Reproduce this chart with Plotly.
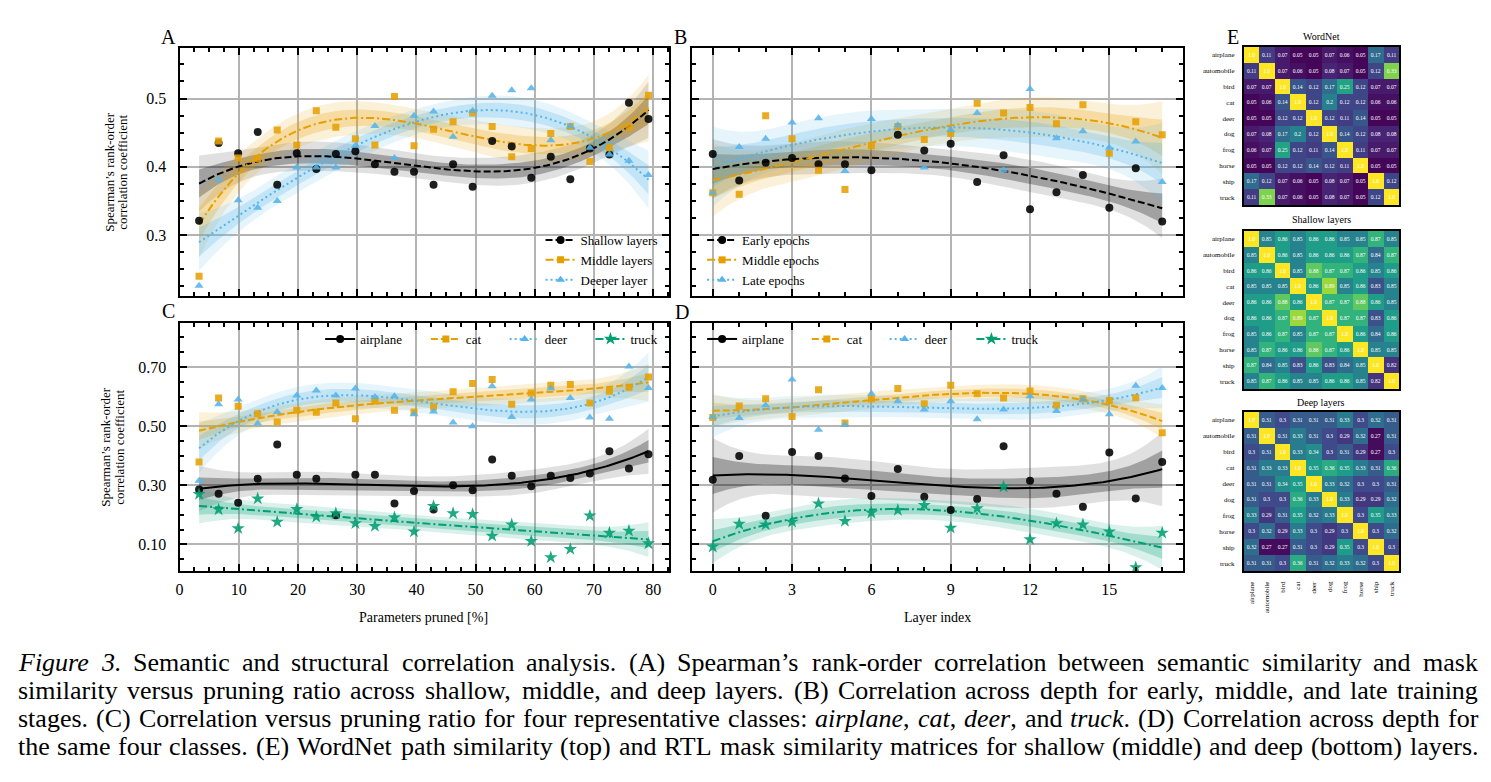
import numpy as np
import plotly.graph_objects as go

# ---------------- data ----------------
pruned_pct = [3.3, 6.6, 9.9, 13.2, 16.5, 19.8, 23.1, 26.4, 29.7, 33.0, 36.3, 39.6,
              42.9, 46.2, 49.5, 52.8, 56.1, 59.4, 62.7, 66.0, 69.3, 72.6, 75.9, 79.2]
A_shallow = [0.321, 0.435, 0.420, 0.451, 0.374, 0.420, 0.397, 0.419, 0.423, 0.404, 0.393, 0.393,
             0.374, 0.404, 0.371, 0.438, 0.430, 0.384, 0.415, 0.382, 0.427, 0.418, 0.494, 0.470]
A_middle = [0.240, 0.438, 0.413, 0.412, 0.454, 0.432, 0.482, 0.458, 0.441, 0.432, 0.503, 0.431,
            0.455, 0.466, 0.479, 0.459, 0.415, 0.427, 0.449, 0.459, 0.408, 0.428, 0.458, 0.505]
A_deeper = [0.226, 0.381, 0.351, 0.340, 0.350, 0.399, 0.399, 0.399, 0.431, 0.460, 0.413, 0.475,
            0.481, 0.444, 0.482, 0.504, 0.512, 0.515, 0.439, 0.459, 0.428, 0.418, 0.409, 0.388]

layer_idx = [0, 1, 2, 3, 4, 5, 6, 7, 8, 9, 10, 11, 12, 13, 14, 15, 16, 17]
B_early = [0.419, 0.380, 0.406, 0.413, 0.404, 0.404, 0.395, 0.447, 0.424, 0.434, 0.378, 0.417,
           0.338, 0.363, 0.388, 0.340, 0.398, 0.320]
B_middle = [0.362, 0.360, 0.475, 0.441, 0.395, 0.367, 0.431, 0.459, 0.440, 0.449, 0.493, 0.479,
            0.487, 0.463, 0.491, 0.420, 0.466, 0.447]
B_late = [0.362, 0.429, 0.441, 0.465, 0.471, 0.394, 0.470, 0.461, 0.399, 0.454, 0.479, 0.395,
          0.514, 0.442, 0.452, 0.428, 0.437, 0.378]

C_airplane = [0.286, 0.271, 0.241, 0.322, 0.438, 0.336, 0.322, 0.199, 0.336, 0.336, 0.238, 0.281,
              0.218, 0.300, 0.283, 0.387, 0.332, 0.297, 0.332, 0.325, 0.340, 0.415, 0.357, 0.405]
C_cat = [0.379, 0.595, 0.567, 0.542, 0.514, 0.554, 0.547, 0.578, 0.525, 0.585, 0.554, 0.548,
         0.565, 0.616, 0.644, 0.658, 0.574, 0.612, 0.638, 0.641, 0.578, 0.618, 0.632, 0.666]
C_deer = [0.315, 0.574, 0.590, 0.509, 0.548, 0.604, 0.621, 0.604, 0.627, 0.599, 0.601, 0.540,
          0.550, 0.512, 0.500, 0.635, 0.531, 0.590, 0.627, 0.595, 0.529, 0.525, 0.702, 0.629]
C_truck = [0.270, 0.218, 0.154, 0.255, 0.176, 0.219, 0.193, 0.205, 0.171, 0.162, 0.191, 0.143,
           0.229, 0.205, 0.202, 0.129, 0.167, 0.111, 0.056, 0.084, 0.197, 0.139, 0.146, 0.103]

D_airplane = [0.319, 0.399, 0.197, 0.413, 0.399, 0.323, 0.264, 0.355, 0.261, 0.216, 0.254, 0.432,
              0.315, 0.271, 0.227, 0.411, 0.255, 0.379]
D_cat = [0.529, 0.568, 0.593, 0.533, 0.623, 0.511, 0.593, 0.627, 0.576, 0.638, 0.610, 0.595,
         0.619, 0.571, 0.593, 0.587, 0.596, 0.478]
D_deer = [0.531, 0.528, 0.571, 0.658, 0.488, 0.505, 0.610, 0.584, 0.556, 0.584, 0.523, 0.556,
          0.601, 0.551, 0.590, 0.540, 0.637, 0.629]
D_truck = [0.092, 0.169, 0.167, 0.176, 0.238, 0.179, 0.207, 0.216, 0.233, 0.156, 0.222, 0.295,
           0.117, 0.171, 0.167, 0.143, 0.022, 0.139]

classes = ["airplane", "automobile", "bird", "cat", "deer", "dog", "frog", "horse", "ship", "truck"]
wordnet_sim = [
    [1.0, 0.11, 0.07, 0.05, 0.05, 0.07, 0.06, 0.05, 0.17, 0.11],
    [0.11, 1.0, 0.07, 0.06, 0.05, 0.08, 0.07, 0.05, 0.12, 0.33],
    [0.07, 0.07, 1.0, 0.14, 0.12, 0.17, 0.25, 0.12, 0.07, 0.07],
    [0.05, 0.06, 0.14, 1.0, 0.12, 0.2, 0.12, 0.12, 0.06, 0.06],
    [0.05, 0.05, 0.12, 0.12, 1.0, 0.12, 0.11, 0.14, 0.05, 0.05],
    [0.07, 0.08, 0.17, 0.2, 0.12, 1.0, 0.14, 0.12, 0.08, 0.08],
    [0.06, 0.07, 0.25, 0.12, 0.11, 0.14, 1.0, 0.11, 0.07, 0.07],
    [0.05, 0.05, 0.12, 0.12, 0.14, 0.12, 0.11, 1.0, 0.05, 0.05],
    [0.17, 0.12, 0.07, 0.06, 0.05, 0.08, 0.07, 0.05, 1.0, 0.12],
    [0.11, 0.33, 0.07, 0.06, 0.05, 0.08, 0.07, 0.05, 0.12, 1.0],
]
shallow_sim = [
    [1.0, 0.85, 0.86, 0.85, 0.86, 0.86, 0.85, 0.85, 0.87, 0.85],
    [0.85, 1.0, 0.86, 0.85, 0.86, 0.86, 0.86, 0.87, 0.84, 0.87],
    [0.86, 0.86, 1.0, 0.85, 0.88, 0.87, 0.87, 0.86, 0.85, 0.86],
    [0.85, 0.85, 0.85, 1.0, 0.86, 0.89, 0.85, 0.86, 0.83, 0.85],
    [0.86, 0.86, 0.88, 0.86, 1.0, 0.87, 0.87, 0.88, 0.86, 0.85],
    [0.86, 0.86, 0.87, 0.89, 0.87, 1.0, 0.87, 0.87, 0.83, 0.86],
    [0.85, 0.86, 0.87, 0.85, 0.87, 0.87, 1.0, 0.86, 0.84, 0.86],
    [0.85, 0.87, 0.86, 0.86, 0.88, 0.87, 0.86, 1.0, 0.85, 0.85],
    [0.87, 0.84, 0.85, 0.83, 0.86, 0.83, 0.84, 0.85, 1.0, 0.82],
    [0.85, 0.87, 0.86, 0.85, 0.85, 0.86, 0.86, 0.85, 0.82, 1.0],
]
deep_sim = [
    [1.0, 0.31, 0.3, 0.31, 0.31, 0.31, 0.33, 0.3, 0.32, 0.31],
    [0.31, 1.0, 0.31, 0.33, 0.31, 0.3, 0.29, 0.32, 0.27, 0.31],
    [0.3, 0.31, 1.0, 0.33, 0.34, 0.3, 0.31, 0.29, 0.27, 0.3],
    [0.31, 0.33, 0.33, 1.0, 0.35, 0.36, 0.35, 0.33, 0.31, 0.36],
    [0.31, 0.31, 0.34, 0.35, 1.0, 0.33, 0.32, 0.3, 0.3, 0.31],
    [0.31, 0.3, 0.3, 0.36, 0.33, 1.0, 0.33, 0.29, 0.29, 0.32],
    [0.33, 0.29, 0.31, 0.35, 0.32, 0.33, 1.0, 0.3, 0.35, 0.33],
    [0.3, 0.32, 0.29, 0.33, 0.3, 0.29, 0.3, 1.0, 0.3, 0.32],
    [0.32, 0.27, 0.27, 0.31, 0.3, 0.29, 0.35, 0.3, 1.0, 0.3],
    [0.31, 0.31, 0.3, 0.36, 0.31, 0.32, 0.33, 0.32, 0.3, 1.0],
]

caption_lines = [
    "<i>Figure</i> <i>3.</i> Semantic and structural correlation analysis. (A) Spearman’s rank-order correlation between semantic similarity and mask",
    "similarity versus pruning ratio across shallow, middle, and deep layers. (B) Correlation across depth for early, middle, and late training",
    "stages. (C) Correlation versus pruning ratio for four representative classes: <i>airplane</i>, <i>cat</i>, <i>deer</i>, and <i>truck</i>. (D) Correlation across depth for",
    "the same four classes. (E) WordNet path similarity (top) and RTL mask similarity matrices for shallow (middle) and deep (bottom) layers.",
]

# ---------------- helpers ----------------
W, H = 1491, 782
FONT = "Liberation Serif"
BLACK, ORANGE, BLUE, GREEN = "#000000", "#E69F00", "#56B4E9", "#009E73"
RGB = {BLACK: (0, 0, 0), ORANGE: (230, 159, 0), BLUE: (86, 180, 233), GREEN: (0, 158, 115)}


def fx(px):
    return px / W


def fy(py):
    return 1 - py / H


def poly_fit(x, y, deg=3, n=160):
    x = np.asarray(x, float)
    y = np.asarray(y, float)
    m, s = x.mean(), x.std()
    X = np.vander((x - m) / s, deg + 1)
    coef, *_ = np.linalg.lstsq(X, y, rcond=None)
    resid = y - X @ coef
    s2 = resid @ resid / (len(x) - deg - 1)
    cov = s2 * np.linalg.inv(X.T @ X)
    xs = np.linspace(x.min(), x.max(), n)
    Xs = np.vander((xs - m) / s, deg + 1)
    ys = Xs @ coef
    se = np.sqrt(np.einsum('ij,jk,ik->i', Xs, cov, Xs))
    return xs, ys, se


fig = go.Figure()

panels = {
    "A": dict(xa="x", ya="y", x=pruned_pct, series=[
        ("Shallow layers", A_shallow, BLACK, "7px,3px", "circle", 8, "legend"),
        ("Middle layers", A_middle, ORANGE, "8px,3px,2px,3px", "square", 7, "legend"),
        ("Deeper layer", A_deeper, BLUE, "2px,3px", "triangle-up", 8, "legend"),
    ]),
    "B": dict(xa="x2", ya="y2", x=layer_idx, series=[
        ("Early epochs", B_early, BLACK, "7px,3px", "circle", 8, "legend2"),
        ("Middle epochs", B_middle, ORANGE, "8px,3px,2px,3px", "square", 7, "legend2"),
        ("Late epochs", B_late, BLUE, "2px,3px", "triangle-up", 8, "legend2"),
    ]),
    "C": dict(xa="x3", ya="y3", x=pruned_pct, series=[
        ("airplane", C_airplane, BLACK, "solid", "circle", 8, "legend3"),
        ("cat", C_cat, ORANGE, "7px,3px", "square", 7, "legend4"),
        ("deer", C_deer, BLUE, "2px,3px", "triangle-up", 8, "legend5"),
        ("truck", C_truck, GREEN, "8px,3px,2px,3px", "star", 10, "legend6"),
    ]),
    "D": dict(xa="x4", ya="y4", x=layer_idx, series=[
        ("airplane", D_airplane, BLACK, "solid", "circle", 8, "legend7"),
        ("cat", D_cat, ORANGE, "7px,3px", "square", 7, "legend8"),
        ("deer", D_deer, BLUE, "2px,3px", "triangle-up", 8, "legend9"),
        ("truck", D_truck, GREEN, "8px,3px,2px,3px", "star", 10, "legend10"),
    ]),
}

for key, p in panels.items():
    fits = []
    for (name, yv, col, dash, sym, ms, leg) in p["series"]:
        xs, ys, se = poly_fit(p["x"], yv)
        fits.append((xs, ys, se))
        r, g, b = RGB[col]
        a_out, a_in = (0.12, 0.28) if col == BLACK else (0.15, 0.25)
        for k, a in ((2.0, a_out), (1.0, a_in)):
            fig.add_trace(go.Scatter(
                x=np.concatenate([xs, xs[::-1]]),
                y=np.concatenate([ys + k * se, (ys - k * se)[::-1]]),
                fill="toself", fillcolor=f"rgba({r},{g},{b},{a})",
                line=dict(width=0), mode="lines", hoverinfo="skip",
                showlegend=False, xaxis=p["xa"], yaxis=p["ya"]))
    for (name, yv, col, dash, sym, ms, leg), (xs, ys, se) in zip(p["series"], fits):
        fig.add_trace(go.Scatter(x=xs, y=ys, mode="lines",
                                 line=dict(color=col, width=2, dash=dash),
                                 showlegend=False, hoverinfo="skip",
                                 xaxis=p["xa"], yaxis=p["ya"]))
    for (name, yv, col, dash, sym, ms, leg) in p["series"]:
        fig.add_trace(go.Scatter(x=p["x"], y=yv, mode="markers",
                                 marker=dict(symbol=sym, size=ms, color=col, opacity=0.88,
                                             line=dict(width=0)),
                                 showlegend=False, xaxis=p["xa"], yaxis=p["ya"]))
        fig.add_trace(go.Scatter(x=[None], y=[None], mode="lines+markers", name=name,
                                 line=dict(color=col, width=2, dash=dash),
                                 marker=dict(symbol=sym, size=ms, color=col),
                                 legend=leg, xaxis=p["xa"], yaxis=p["ya"]))


def cell_text(v):
    s = f"{v:.2f}".rstrip("0")
    if s.endswith("."):
        s += "0"
    return s


heat_specs = [
    ("x5", "y5", wordnet_sim, 0.045, 0.40),
    ("x6", "y6", shallow_sim, 0.805, 0.905),
    ("x7", "y7", deep_sim, 0.265, 0.42),
]
for xa, ya, mat, zmin, zmax in heat_specs:
    fig.add_trace(go.Heatmap(
        z=mat, x=list(range(10)), y=list(range(10)),
        text=[[cell_text(v) for v in row] for row in mat],
        texttemplate="%{text}", textfont=dict(family=FONT, size=5.5, color="white"),
        colorscale="Viridis", zmin=zmin, zmax=zmax, showscale=False,
        xaxis=xa, yaxis=ya, hoverinfo="skip"))

# ---------------- axes ----------------
tickfont = dict(family=FONT, size=16, color="black")
base = dict(showline=True, linewidth=2, linecolor="black", mirror="ticks",
            ticks="inside", ticklen=7, tickwidth=1.5, tickcolor="black",
            showgrid=True, gridcolor="#b4b4b4", gridwidth=1.5, zeroline=False,
            tickfont=tickfont)


def minor(d):
    return dict(ticks="inside", ticklen=4, tickwidth=1.5, tickcolor="black", dtick=d, showgrid=False)


dom_x_left = [fx(176), fx(667)]
dom_x_right = [fx(690), fx(1182)]
dom_y_top = [fy(296), fy(48)]
dom_y_bot = [fy(571), fy(323)]

layout_axes = dict(
    xaxis=dict(base, domain=dom_x_left, range=[0, 82.7], dtick=10, tick0=0,
               showticklabels=False, minor=minor(2.5), anchor="y"),
    yaxis=dict(base, domain=dom_y_top, range=[0.211, 0.574], dtick=0.1, tick0=0,
               tickformat=".1f", minor=minor(0.025), anchor="x", ticklabelstandoff=8),
    xaxis2=dict(base, domain=dom_x_right, range=[-0.78, 17.78], dtick=3, tick0=0,
                showticklabels=False, minor=minor(1), anchor="y2"),
    yaxis2=dict(base, domain=dom_y_top, range=[0.211, 0.574], dtick=0.1, tick0=0,
                showticklabels=False, minor=minor(0.025), anchor="x2"),
    xaxis3=dict(base, domain=dom_x_left, range=[0, 82.7], dtick=10, tick0=0,
                minor=minor(2.5), anchor="y3", ticklabelstandoff=3),
    yaxis3=dict(base, domain=dom_y_bot, range=[0.01, 0.849], dtick=0.2, tick0=0.1,
                tickformat=".2f", minor=minor(0.05), anchor="x3", ticklabelstandoff=8),
    xaxis4=dict(base, domain=dom_x_right, range=[-0.78, 17.78], dtick=3, tick0=0,
                minor=minor(1), anchor="y4", ticklabelstandoff=3),
    yaxis4=dict(base, domain=dom_y_bot, range=[0.01, 0.849], dtick=0.2, tick0=0.1,
                showticklabels=False, minor=minor(0.05), anchor="x4"),
)

hm_x = [fx(1243), fx(1399)]
hm_doms = {"5": [fy(205), fy(47)], "6": [fy(389), fy(231)], "7": [fy(571), fy(412)]}
hm_font = dict(family=FONT, size=7, color="black")
for k, dom in hm_doms.items():
    layout_axes["xaxis" + k] = dict(domain=hm_x, anchor="y" + k, range=[-0.5, 9.5],
                                    showline=True, mirror=True, linewidth=1.5, linecolor="black",
                                    showgrid=False, zeroline=False, ticks="",
                                    tickvals=list(range(10)), ticktext=classes,
                                    showticklabels=(k == "7"), tickangle=-90,
                                    tickfont=hm_font, ticklabelstandoff=6)
    layout_axes["yaxis" + k] = dict(domain=dom, anchor="x" + k, range=[9.5, -0.5],
                                    showline=True, mirror=True, linewidth=1.5, linecolor="black",
                                    showgrid=False, zeroline=False, ticks="",
                                    tickvals=list(range(10)), ticktext=classes,
                                    tickfont=hm_font, ticklabelstandoff=6)

# ---------------- legends ----------------
leg_font = dict(family=FONT, size=13, color="black")
legends = dict(
    legend=dict(x=fx(538), y=fy(225), xanchor="left", yanchor="top"),
    legend2=dict(x=fx(700), y=fy(225), xanchor="left", yanchor="top"),
    legend3=dict(x=fx(317), y=fy(339), xanchor="left", yanchor="middle"),
    legend4=dict(x=fx(423), y=fy(339), xanchor="left", yanchor="middle"),
    legend5=dict(x=fx(502), y=fy(339), xanchor="left", yanchor="middle"),
    legend6=dict(x=fx(588), y=fy(339), xanchor="left", yanchor="middle"),
    legend7=dict(x=fx(700), y=fy(339), xanchor="left", yanchor="middle"),
    legend8=dict(x=fx(805), y=fy(339), xanchor="left", yanchor="middle"),
    legend9=dict(x=fx(883), y=fy(339), xanchor="left", yanchor="middle"),
    legend10=dict(x=fx(970), y=fy(339), xanchor="left", yanchor="middle"),
)
for k, v in legends.items():
    v.update(font=leg_font, bgcolor="rgba(0,0,0,0)", borderwidth=0, tracegroupgap=0,
             itemclick=False, itemdoubleclick=False)

# white patches hiding grid lines behind legends
shapes = []
for (x0, x1, y0, y1) in [(537, 667, 227, 296), (690, 826, 225, 296),
                         (305, 667, 324, 353), (690, 1100, 324, 353)]:
    shapes.append(dict(type="rect", xref="paper", yref="paper",
                       x0=fx(x0), x1=fx(x1), y0=fy(y1), y1=fy(y0),
                       fillcolor="white", line=dict(width=0), layer="between"))

# ---------------- annotations ----------------
ann = []


def add_text(txt, px, py, size, angle=0, xanchor="center"):
    ann.append(dict(text=txt, x=fx(px), y=fy(py), xref="paper", yref="paper",
                    showarrow=False, xanchor=xanchor, yanchor="middle", textangle=angle,
                    font=dict(family=FONT, size=size, color="black")))


for letter, (px, py) in {"A": (165, 37), "B": (678, 37), "C": (165, 311),
                         "D": (680, 312), "E": (1232, 37)}.items():
    add_text(letter, px, py, 20)

add_text("Parameters pruned [%]", 421, 617, 14)
add_text("Layer index", 936, 617, 14)
add_text("Spearman’s rank-order", 105, 172, 13, angle=-90)
add_text("correlation coefficient", 118, 172, 13, angle=-90)
add_text("Spearman’s rank-order", 101, 447, 13, angle=-90)
add_text("correlation coefficient", 115, 447, 13, angle=-90)
add_text("WordNet", 1321, 36, 10)
add_text("Shallow layers", 1321, 220, 10)
add_text("Deep layers", 1321, 402, 10)

# caption, justified using Times metrics
ROMAN = {" ": 250, "(": 333, ")": 333, ",": 250, "-": 333, ".": 250, ":": 278, "’": 333, "[": 333, "]": 333}
ROMAN.update({d: 500 for d in "0123456789"})
ROMAN.update(dict(zip("ABCDEFGHIJKLMNOPQRSTUVWXYZ",
                      [722, 667, 667, 722, 611, 556, 722, 722, 333, 389, 722, 611, 889, 722, 722,
                       556, 722, 667, 556, 611, 722, 722, 944, 722, 722, 611])))
ROMAN.update(dict(zip("abcdefghijklmnopqrstuvwxyz",
                      [444, 500, 444, 500, 444, 333, 500, 500, 278, 278, 500, 278, 778, 500, 500,
                       500, 500, 333, 389, 278, 500, 500, 722, 500, 500, 444])))
ITAL = dict(ROMAN)
ITAL.update(dict(zip("abcdefghijklmnopqrstuvwxyz",
                     [500, 500, 444, 500, 444, 278, 500, 500, 278, 278, 444, 278, 722, 500, 500,
                      500, 500, 389, 389, 278, 500, 444, 667, 444, 444, 389])))
ITAL["F"] = 611


def text_w(s, fs):
    w, it, i = 0, False, 0
    while i < len(s):
        if s.startswith("<i>", i):
            it, i = True, i + 3
            continue
        if s.startswith("</i>", i):
            it, i = False, i + 4
            continue
        w += (ITAL if it else ROMAN).get(s[i], 500)
        i += 1
    return w * fs / 1000.0


CAP_FS = 26
cap_left, cap_right = 14, 1478
for li, line in enumerate(caption_lines):
    words = line.split(" ")
    widths = [text_w(w, CAP_FS) for w in words]
    gap = (cap_right - cap_left - sum(widths)) / (len(words) - 1)
    gap = max(gap, 0.2 * CAP_FS)
    xpos = cap_left
    py = 662 + li * 28.2
    for w, wd in zip(words, widths):
        ann.append(dict(text=w, x=fx(xpos - 2), y=fy(py), xref="paper", yref="paper",
                        showarrow=False, xanchor="left", yanchor="middle",
                        font=dict(family=FONT, size=CAP_FS, color="black")))
        xpos += wd + gap

fig.update_layout(
    width=W, height=H, margin=dict(l=0, r=0, t=0, b=0),
    paper_bgcolor="white", plot_bgcolor="white",
    showlegend=True, annotations=ann, shapes=shapes,
    font=dict(family=FONT, color="black"),
    **layout_axes, **legends,
)

fig.write_html("out.html")
